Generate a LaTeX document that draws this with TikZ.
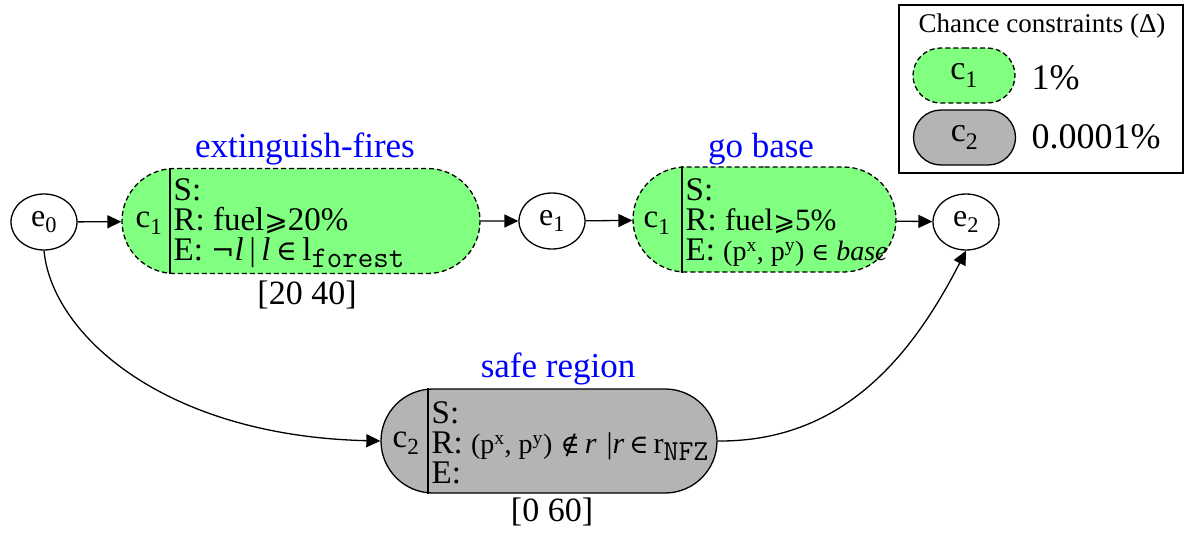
\documentclass[tikz,border=0pt]{standalone}
\usepackage{fontspec}
\setmainfont{Liberation Serif}
\newfontfamily\sym{DejaVu Sans}
\newfontfamily\symserif{DejaVu Serif}
\usetikzlibrary{shapes.misc,shapes.geometric,arrows.meta}
\definecolor{pillgreen}{HTML}{80FF80}
\definecolor{pillgray}{HTML}{B4B4B4}
\newcommand{\fs}[1]{\fontsize{#1}{#1}\selectfont}
\begin{document}
\begin{tikzpicture}[x=1pt,y=-1pt,
  line width=1.3pt,
  >={Triangle[length=14pt,width=13pt]},
  ev/.style={ellipse,draw,minimum width=66pt,minimum height=56pt,inner sep=0pt,font=\fs{32}},
  pill/.style={rounded rectangle,draw,inner sep=0pt},
  chance1/.style={pill,fill=pillgreen,dash pattern=on 5pt off 3pt},
  chance2/.style={pill,fill=pillgray},
  title/.style={text=blue,font=\fs{35},anchor=base,inner sep=0pt},
  body/.style={align=left,anchor=west,inner sep=0pt,font=\fontsize{33}{30}\selectfont},
  cid/.style={font=\fs{33},inner sep=0pt},
  bound/.style={font=\fs{34},inner sep=0pt},
  pct/.style={anchor=west,font=\fs{36},inner sep=0pt}
]
\useasboundingbox (0,0) rectangle (1185,533);

% events
\node[ev] (e0) at (44,222) {e\textsubscript{0}};
\node[ev] (e1) at (552,221) {e\textsubscript{1}};
\node[ev] (e2) at (966,222) {e\textsubscript{2}};

% episodes
\node[chance1,minimum width=358pt,minimum height=105pt] (b1) at (301,221) {};
\node[chance1,minimum width=263pt,minimum height=105pt] (b2) at (764.5,219.5) {};
\node[chance2,minimum width=336pt,minimum height=104pt] (b3) at (549,441) {};

\coordinate (d1) at (170,0);
\coordinate (d2) at (682,0);
\coordinate (d3) at (428,0);
\draw (b1.north -| d1) -- (b1.south -| d1);
\draw (b2.north -| d2) -- (b2.south -| d2);
\draw (b3.north -| d3) -- (b3.south -| d3);

\node[cid] (c1a) at (149,223) {c\textsubscript{1}};
\node[cid] (c1b) at (657,223) {c\textsubscript{1}};
\node[cid] (c2a) at (406,443) {c\textsubscript{2}};

\node[body] (t1) at (173,223) {S:\\R: fuel{\sym\fs{28}⩾}20\%\\E: {\symserif\fs{28}¬}\textit{l}\,|\,\textit{l}\,{\symserif\fs{28}∈}\,l\raisebox{-7pt}{\fs{30}\ttfamily forest}};
\node[body] (t2) at (685,223) {S:\\R: {\fs{31}fuel{\sym\fs{26}⩾}5\%}\\E: {\fs{28}(p\textsuperscript{x}, p\textsuperscript{y}) {\symserif\fs{24}∈} \textit{base}}};
\node[body] (t3) at (431,443) {S:\\R: {\fs{28}(p\textsuperscript{x}, p\textsuperscript{y})} {\fs{30}{\symserif\fs{26}∉}\,\textit{r}\,\,|\textit{r}\,{\symserif\fs{26}∈}\,r}\raisebox{-7pt}{\fs{29}\ttfamily NFZ}\\E:};

\node[title] (h1) at (305,157) {extinguish-fires};
\node[title] (h2) at (761,157) {go base};
\node[title] (h3) at (558,377) {safe region};
\node[bound] (w1) at (307,295) {[20 40]};
\node[bound] (w3) at (552,512) {[0 60]};

% connectors
\draw[->] (e0) -- (b1);
\draw[->] (b1) -- (e1);
\draw[->] (e1) -- (b2);
\draw[->] (b2) -- (e2);
\draw[->] (e0.south) .. controls (52,335) and (165,436) .. (b3.west);
\draw[->] (b3.east) .. controls (840,442) and (910,360) .. (e2.south);

% legend
\node[draw,minimum width=284pt,minimum height=168pt,inner sep=0pt] (leg) at (1041,89) {};
\node[font=\fs{27},inner sep=0pt] (legt) at (1042,26) {Chance constraints (Δ)};
\node[chance1,minimum width=102pt,minimum height=55pt] (l1) at (964,75.5) {\fs{34}c\textsubscript{1}};
\node[chance2,minimum width=102pt,minimum height=55pt] (l2) at (964.5,137.5) {\fs{34}c\textsubscript{2}};
\node[pct] (p1) at (1031,78) {1\%};
\node[pct] (p2) at (1031,137) {0.0001\%};
\end{tikzpicture}
\end{document}
